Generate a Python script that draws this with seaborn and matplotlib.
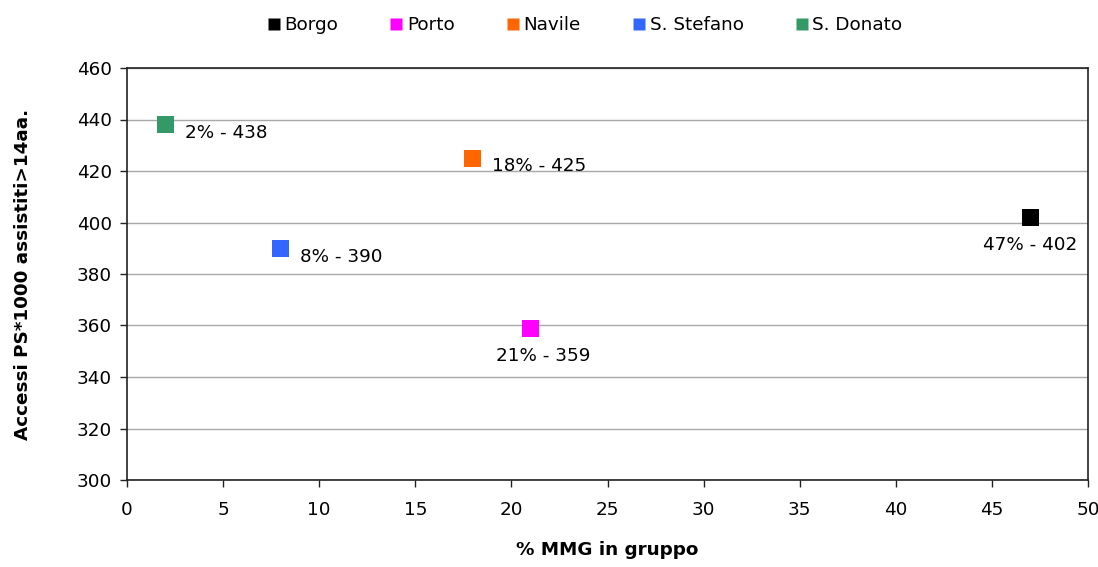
import matplotlib
matplotlib.use("Agg")
import matplotlib.pyplot as plt
import seaborn as sns
import pandas as pd

# Data: share of GPs in group practice vs ER visits per 1000 patients (>14 y)
districts = ["Borgo", "Porto", "Navile", "S. Stefano", "S. Donato"]
mmg_pct = [47, 21, 18, 8, 2]
accessi = [402, 359, 425, 390, 438]
colors = ["#000000", "#FF00FF", "#FF6600", "#3366FF", "#339966"]
x_ticks = [0, 5, 10, 15, 20, 25, 30, 35, 40, 45, 50]
y_ticks = [300, 320, 340, 360, 380, 400, 420, 440, 460]

df = pd.DataFrame({"district": districts, "mmg": mmg_pct, "accessi": accessi})

sns.set_theme(style="white")
plt.rcParams["font.family"] = ["DejaVu Sans"]
plt.rcParams["text.color"] = "black"
plt.rcParams["xtick.color"] = "black"
plt.rcParams["ytick.color"] = "black"
plt.rcParams["axes.labelcolor"] = "black"

FS = 13.2

fig = plt.figure(figsize=(10.98, 5.67), dpi=100)
ax = fig.add_axes([127 / 1098, 1 - 480 / 567, (1088 - 127) / 1098, (480 - 68) / 567])

ax.set_xlim(0, 50)
ax.set_ylim(300, 460)
ax.set_xticks(x_ticks)
ax.set_yticks(y_ticks)
ax.yaxis.grid(True, color="#a8a8a8", linewidth=1.0)
ax.set_axisbelow(True)

sns.scatterplot(data=df, x="mmg", y="accessi", hue="district",
                hue_order=districts, palette=colors, marker="s", s=150,
                linewidth=0, edgecolor="none", ax=ax, legend=False, zorder=3)

# point labels
for name, xv, yv in zip(districts, mmg_pct, accessi):
    text = f"{xv}% - {yv}"
    if name in ("Borgo", "Porto"):
        ax.annotate(text, (xv, yv), xytext=(9 if name == "Porto" else 0, -20),
                    textcoords="offset points", ha="center", va="center",
                    fontsize=FS, color="black")
    else:
        ax.annotate(text, (xv, yv), xytext=(14, -6),
                    textcoords="offset points", ha="left", va="center",
                    fontsize=FS, color="black")

for sp in ax.spines.values():
    sp.set_visible(True)
    sp.set_color("#222222")
    sp.set_linewidth(1.2)

ax.tick_params(axis="both", which="both", direction="out", length=5,
               width=1, color="#222222", labelsize=FS, pad=6,
               left=True, bottom=True)
ax.tick_params(axis="x", pad=10)

ax.set_xlabel("% MMG in gruppo", fontsize=FS, fontweight="bold", labelpad=16)
ax.set_ylabel("Accessi PS*1000 assistiti>14aa.", fontsize=FS,
              fontweight="bold", labelpad=32)

# legend above the plot
handles = [plt.Line2D([], [], marker="s", linestyle="none", markersize=9,
                      markerfacecolor=c, markeredgecolor="none") for c in colors]
fig.legend(handles, districts, loc="center", bbox_to_anchor=(584 / 1098, 1 - 25 / 567),
           ncol=5, frameon=False, fontsize=FS, handletextpad=0.15,
           columnspacing=2.7, handlelength=0.9)

fig.savefig("out.png", dpi=100)
